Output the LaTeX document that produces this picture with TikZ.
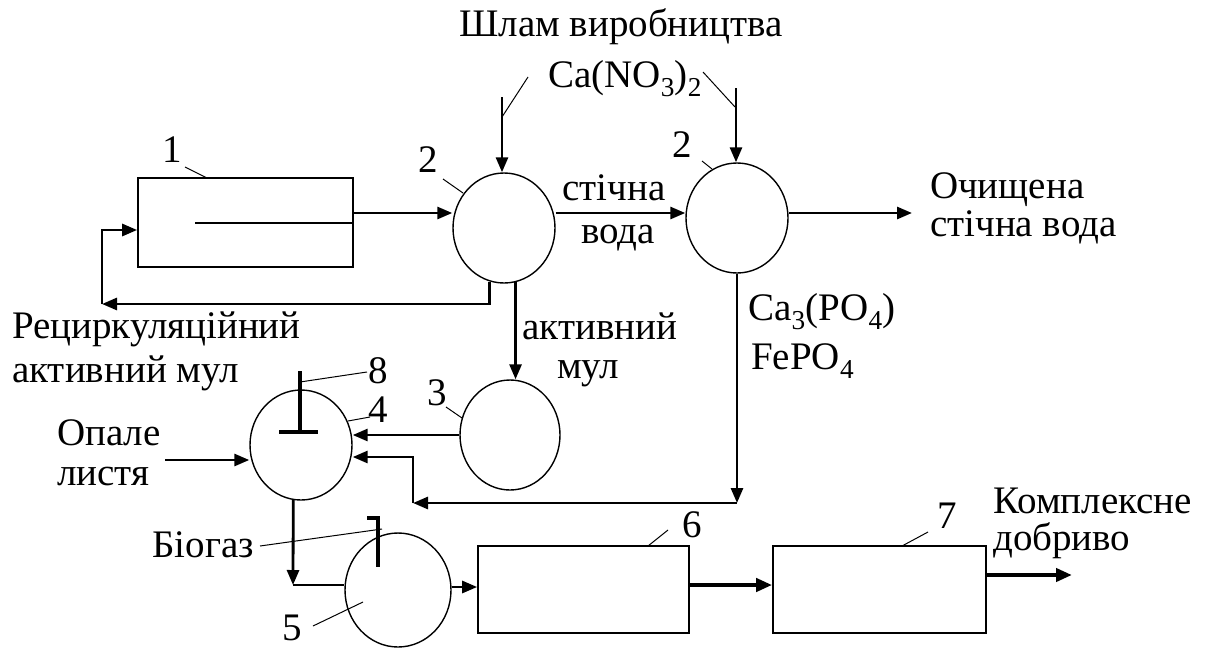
\documentclass[tikz,border=0pt]{standalone}
\usepackage{fontspec}
\setmainfont{Liberation Serif}
\usetikzlibrary{arrows.meta,shapes.geometric}
\begin{document}
\begin{tikzpicture}[x=1pt,y=-1pt,
  unit/.style={ellipse,draw,line width=1.4pt,inner sep=0pt,minimum width=102pt,minimum height=110pt},
  box/.style={draw,line width=1.7pt,inner sep=0pt},
  flow/.style={line width=2.8pt,-{Triangle[length=15pt,width=12pt]}},
  thickflow/.style={line width=4pt,-{Triangle[length=16pt,width=13pt]}},
  lead/.style={line width=1pt},
  sym/.style={line width=3.4pt},
  txt/.style={font=\fontsize{39}{44}\selectfont,inner sep=0pt}
]
\useasboundingbox (0,0) rectangle (1209,648);

% units
\node[box,minimum width=215pt,minimum height=89pt] (b1) at (245.5,222.5) {};
\node[unit] (c2a) at (504,228) {};
\node[unit] (c2b) at (737,218) {};
\node[unit,minimum width=100pt] (c3) at (510,435) {};
\node[unit] (c4) at (301,445) {};
\node[unit,minimum width=106pt,minimum height=114pt] (c5) at (398,590) {};
\node[box,minimum width=211pt,minimum height=87pt] (b6) at (583.5,589.5) {};
\node[box,minimum width=213pt,minimum height=87pt] (b7) at (879.5,589.5) {};

% inner line of box 1
\draw[line width=1.6pt] (195,223) -- (b1.east |- 0,223);

% symbols inside 4 and 5
\draw[sym] (300,371) -- (300,432) (279,432) -- (318,432);
\draw[sym] (367,518) -- (378,518) -- (378,567);

% coordinates
\coordinate (in1) at (502,97);
\coordinate (in2) at (736,88);
\coordinate (out1) at (912,213);
\coordinate (rc) at (102,304);
\coordinate (p1) at (737,503);
\coordinate (p2) at (413,503);
\coordinate (p3) at (293,585);
\coordinate (op) at (165,460);
\coordinate (out2) at (1072,575);

% flows
\draw[flow] (in1) -- (in1 |- c2a.north);
\draw[flow] (in2) -- (in2 |- c2b.north);
\draw[flow] (b1.east |- 0,213) -- (c2a.west |- 0,213);
\draw[flow] (c2a.east |- 0,213) -- (c2b.west |- 0,213);
\draw[flow] (c2b.east |- 0,213) -- (out1);
\draw[flow] (c2a.255) |- (rc);
\draw[flow] (rc) |- (b1.west |- 0,230);
\draw[flow] (c2a.282) -- (c2a.282 |- c3.north);
\draw[flow] (c3.west) -- (c4.east |- c3.west);
\draw[flow] (op) -- (c4.west |- op);
\draw[flow] (c2b.south) -- (p1);
\draw[flow] (p1) -- (p2);
\draw[flow] (p2) |- (c4.east |- 0,457);
\draw[flow] (c4.262) -- (p3);
\draw[line width=2.8pt] (p3) -- (c5.west |- p3);
\draw[flow] (c5.east |- 0,587) -- (b6.west |- 0,587);
\draw[thickflow] (b6.east |- 0,585) -- (b7.west |- 0,585);
\draw[thickflow] (b7.east |- 0,575) -- (out2);

% leaders
\draw[lead] (185,167) -- (207,178);
\draw[lead] (443,179) -- (463,193);
\draw[lead] (702,161) -- (712,169);
\draw[lead] (528,77) -- (502,117);
\draw[lead] (703,72) -- (735,107);
\draw[lead] (446,407) -- (462,418);
\draw[lead] (348,421) -- (370,417);
\draw[lead] (300,382) -- (367,372);
\draw[lead] (260,546) -- (382,529);
\draw[lead] (313,626) -- (363,602);
\draw[lead] (648,546) -- (668,530);
\draw[lead] (902,546) -- (928,532);

% numbers
\node[txt,anchor=base west] (n1) at (162,162) {1};
\node[txt,anchor=base west] (n2a) at (418,172) {2};
\node[txt,anchor=base west] (n2b) at (672,157) {2};
\node[txt,anchor=base west] (n3) at (427,405) {3};
\node[txt,anchor=base west] (n4) at (368,422) {4};
\node[txt,anchor=base west] (n8) at (368,383) {8};
\node[txt,anchor=base west] (n5) at (282,640) {5};
\node[txt,anchor=base west] (n6) at (682,537) {6};
\node[txt,anchor=base west] (n7) at (937,528) {7};

% texts
\node[txt,anchor=base] (t1) at (621,36) {Шлам виробництва};
\node[txt,anchor=base west] (t2) at (548,87) {Ca(NO\textsubscript{3})\textsubscript{2}};
\node[txt,anchor=base] (t3) at (614,200) {стічна};
\node[txt,anchor=base] (t4) at (618,243) {вода};
\node[txt,anchor=base west] (t5) at (930,198) {Очищена};
\node[txt,anchor=base west] (t6) at (930,236) {стічна вода};
\node[txt,anchor=base west] (t7) at (12,338) {Рециркуляційний};
\node[txt,anchor=base west] (t8) at (12,382) {активний мул};
\node[txt,anchor=base] (t9) at (600,339) {активний};
\node[txt,anchor=base] (t10) at (588,378) {мул};
\node[txt,anchor=base west] (t11) at (748,320) {Ca\textsubscript{3}(PO\textsubscript{4})};
\node[txt,anchor=base west] (t12) at (751,369) {FePO\textsubscript{4}};
\node[txt,anchor=base west] (t13) at (57,445) {Опале};
\node[txt,anchor=base west] (t14) at (57,485) {листя};
\node[txt,anchor=base east] (t15) at (254,557) {Біогаз};
\node[txt,anchor=base west] (t16) at (993,513) {Комплексне};
\node[txt,anchor=base west] (t17) at (993,550) {добриво};
\end{tikzpicture}
\end{document}
